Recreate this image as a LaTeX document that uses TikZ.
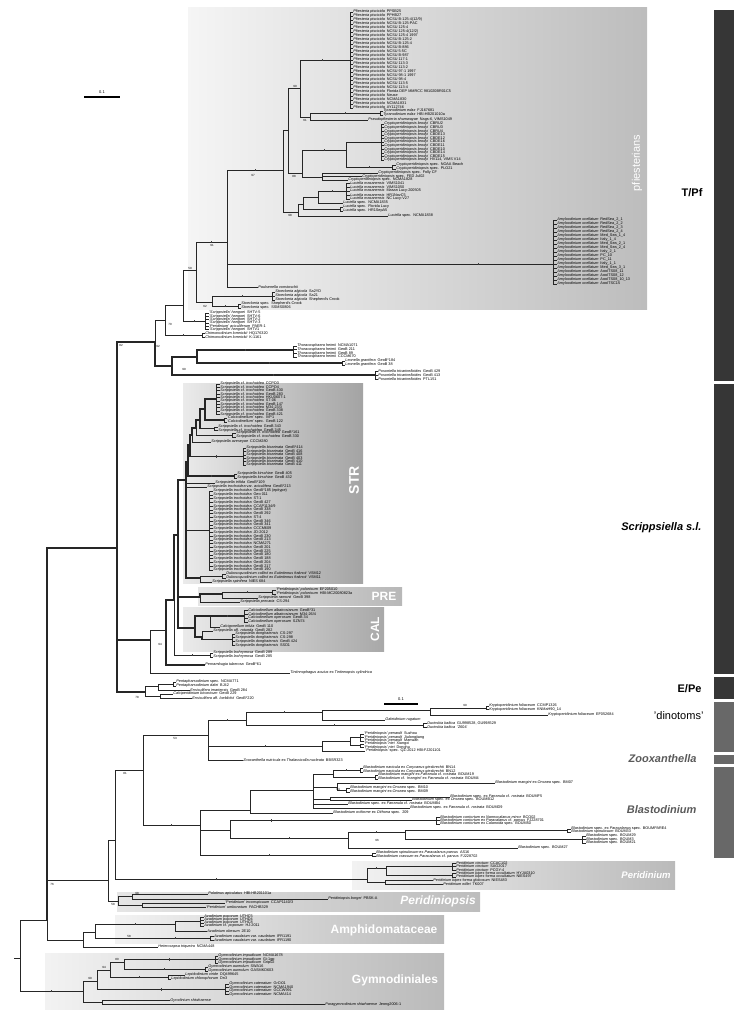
\documentclass[tikz,border=0pt]{standalone}
\usepackage{fontspec}
\setmainfont{Liberation Sans}
\usetikzlibrary{positioning}

\definecolor{bardark}{HTML}{363636}
\definecolor{barlight}{HTML}{686868}
\definecolor{lblgray}{HTML}{5A5A5A}

\tikzset{
  lf/.style={anchor=west, inner sep=0.2pt, font=\fontsize{3.8}{4}\selectfont},
  br/.style={line width=0.5pt, black!85},
  tk/.style={line width=1.4pt},
  bs/.style={inner sep=0.3pt, font=\fontsize{3}{3.2}\selectfont},
  mk/.style={inner sep=0pt, minimum width=0.45pt, minimum height=2.6pt, fill=black!75},
  clade/.style={left color=black!5, right color=black!27},
  cladelbl/.style={text=white, font=\bfseries\fontsize{12}{12}\selectfont},
  sidebar/.style={fill=bardark},
  sidebarlt/.style={fill=barlight},
  sidelbl/.style={anchor=east, font=\bfseries\fontsize{11}{11}\selectfont},
  scalebar/.style={line width=2.6pt},
}

% #1 prefix, #2 bar x, #3 text x, #4 first y, #5 step, #6 species, #7 strains
\newcommand\taxa[7]{%
  \foreach \tx [count=\i from 0] in {#7}{%
    \node[lf] (#1\i) at (#3,{#4+\i*#5}) {#6\tx};
    \draw[br] (#2,{#4+\i*#5}) -- (#1\i.west);
    \ifnum\i>0 \draw[br] (#2,{#4+\i*#5}) -- ++(0,{-#5});\fi
  }}

\begin{document}
\begin{tikzpicture}[x=1pt,y=-1pt]
\useasboundingbox (0,0) rectangle (751,1024);

% shaded clades
\shade[clade,left color=black!4,right color=black!26] (188,8) rectangle (647,309);
\shade[clade,left color=black!8,right color=black!36] (183,383) rectangle (363,583);
\shade[clade,left color=black!10,right color=black!28] (198,587) rectangle (402,605);
\shade[clade,left color=black!8,right color=black!34] (183,607) rectangle (384,651);
\shade[clade] (352,861) rectangle (675,889);
\shade[clade,left color=black!10,right color=black!26] (117,892) rectangle (480,911);
\shade[clade] (115,915) rectangle (444,943);
\shade[clade] (45,953) rectangle (444,1009);

\node[cladelbl, rotate=90, font=\fontsize{11}{11}\selectfont] (lpf) at (637,163) {pfiesterians};
\node[cladelbl, rotate=90, font=\bfseries\fontsize{14}{14}\selectfont] (lstr) at (354,480) {STR};
\node[cladelbl] (lpre) at (384,596) {PRE};
\node[cladelbl, rotate=90] (lcal) at (375,629) {CAL};
\node[cladelbl, font=\bfseries\itshape\fontsize{9.5}{9.5}\selectfont] (lper) at (646,875) {Peridinium};
\node[cladelbl, font=\bfseries\itshape\fontsize{12}{12}\selectfont] (lpdp) at (438,901) {Peridiniopsis};
\node[cladelbl] (lamp) at (384,930) {Amphidomataceae};
\node[cladelbl] (lgym) at (395,980) {Gymnodiniales};

% side bars
\fill[sidebar] (714,10) rectangle (734,381);
\fill[sidebar] (714,384) rectangle (734,674);
\fill[sidebar] (714,677) rectangle (734,699);
\fill[sidebarlt] (714,702) rectangle (734,752);
\fill[sidebarlt] (714,755) rectangle (734,764);
\fill[sidebarlt] (714,767) rectangle (734,858);
\node[sidelbl] (stpf) at (706,193) {T/Pf};
\node[sidelbl, font=\bfseries\itshape\fontsize{11}{11}\selectfont] (sscr) at (705,528) {Scrippsiella s.l.};
\node[sidelbl] (sep) at (705,689) {E/Pe};
\node[sidelbl, font=\fontsize{11}{11}\selectfont] (sdin) at (707,716) {'dinotoms'};
\node[sidelbl, text=lblgray, font=\bfseries\itshape\fontsize{11}{11}\selectfont] (szoo) at (700,759) {Zooxanthella};
\node[sidelbl, text=lblgray, font=\bfseries\itshape\fontsize{11}{11}\selectfont] (sbla) at (700,810) {Blastodinium};

% scale bars
\coordinate (sa1) at (84,97);
\coordinate (sa2) at (120,97);
\draw[scalebar] (sa1) -- node[above=1.6pt, bs, font=\fontsize{4}{4}\selectfont] (sl1) {0.1} (sa2);
\coordinate (sb1) at (384,704);
\coordinate (sb2) at (418,704);
\draw[scalebar] (sb1) -- node[above=1.6pt, bs, font=\fontsize{4}{4}\selectfont] (sl2) {0.1} (sb2);

% ---------------- pfiesterians
\coordinate (pfA) at (300,88);
\coordinate (pfB) at (350,60);
\coordinate (tyA) at (310,117);
\coordinate (tyB) at (380,113);
\coordinate (crA) at (288,130);
\coordinate (crB) at (302,173);
\coordinate (crC) at (346,150);
\coordinate (crD) at (381,142);
\coordinate (crE) at (392,167);
\coordinate (crF) at (322,177);
\coordinate (luA) at (283,170);
\coordinate (luB) at (298,212);
\coordinate (luC) at (303,204);
\coordinate (luD) at (318,197);
\coordinate (luE) at (346,191);
\coordinate (luG) at (340,209);
\coordinate (amA) at (553,264);
\coordinate (n97) at (227,242);
\coordinate (stA) at (212,302);
\coordinate (stB) at (272,296);
\coordinate (stC) at (238,306);
\coordinate (core) at (196,270);
\coordinate (tpf1) at (183,305);
\coordinate (hgA) at (205,321);
\coordinate (tpf0) at (165,320);
\coordinate (chA) at (202,335);
\coordinate (n92) at (155,342);
\coordinate (thA) at (172,366);
\coordinate (thB) at (197,357);
\coordinate (thC) at (293,350);
\coordinate (leA) at (342,363);
\coordinate (poA) at (375,375);

\taxa{pp}{350}{353}{12}{4}{\textit{Pfiesteria piscicida}\enspace}{PPSB25,PPHB27,NCSU B-125-4(12/9),NCSU B-125-PAC,NCSU 125-4,NCSU 125-4(12/2),NCSU 125-4 1997,NCSU B-125-2,NCSU B-125-4,NCSU B-886,NCSU 5-5C,NCSU B-987,NCSU 117-1,NCSU 113-3,NCSU 113-2,NCSU 97-1 1997,NCSU 98-1 1997,NCSU 98-4,NCSU 113-5,NCSU 113-4,Florida DEP MMRCC 981020BR01C5,Neuse,NCMA1830,NCMA1831,AY112746}
\taxa{ty}{380}{383}{111}{4}{\textit{Tyranodinium edax}\enspace}{FJ167681,HBI:HB201010a}
\node[lf] (psd) at (368,120) {\textit{Pseudopfiesteria shumwayae}\enspace Nags-6, VIMS1049};
\taxa{cb}{381}{384}{124}{3.6}{\textit{Cryptoperidiniopsis brodyi}\enspace}{CBRU2,CBRU3,CBRU4,CBDE13,CBDE12,CBDE16,CBDE11,CBDE10,CBDE14,CBDE15,{HV114, VIMS V14}}
\taxa{cs}{392}{396}{165}{4}{\textit{Cryptoperidiniopsis} spec.\enspace}{NOAA Beach,PLO21}
\node[lf] (cf1) at (378,173) {\textit{Cryptoperidiniopsis} spec.\enspace Folly CF};
\node[lf] (cf2) at (362,176.5) {\textit{Cryptoperidiniopsis} spec.\enspace FED Jul02};
\node[lf] (cf3) at (348,180) {\textit{Cryptoperidiniopsis} spec.\enspace NCMA1828};
\taxa{lm}{346}{350}{183}{4}{\textit{Luciella masanensis}\enspace}{VIMS1041,VIMS1050,Masan Lucy-200505,HR1NovC5,NC Lucy-V27}
\node[lf] (luF) at (343,203) {\textit{Luciella} spec.\enspace NCMA1835};
\taxa{ls}{340}{343}{207}{4}{\textit{Luciella} spec.\enspace}{Florida Lucy,HR1SepA5}
\node[lf] (luH) at (388,216) {\textit{Luciella} spec.\enspace NCMA1838};
\taxa{am}{553}{557}{220}{4}{\textit{Amyloodinium ocellatum}\enspace}{RedSea\_2\_1,RedSea\_2\_2,RedSea\_2\_3,RedSea\_2\_4,Med\_Sea\_1\_4,Italy\_1\_4,Med\_Sea\_2\_1,Med\_Sea\_2\_4,Italy\_2\_1,PC\_10,PC\_11,Italy\_1\_1,Med\_Sea\_3\_1,AooITS08\_11,AooITS08\_12,AooITS08\_10\_13,AooITSC15}
\node[lf] (pau) at (258,287) {\textit{Paulsenella vonstoschii}};
\taxa{sa}{272}{275}{292}{4}{\textit{Stoeckeria algicola}\enspace}{Sa2YD,Sa21,Shepherd's Crook}
\taxa{ss}{238}{241}{304}{4}{\textit{Stoeckeria} spec.\enspace}{Shepherd's Crook,SSMS0806}
\taxa{hg}{205}{209}{313}{3.3}{}{\textit{'Scrippsiella' hangoei}\enspace SHTV-5,\textit{'Scrippsiella' hangoei}\enspace SHTV-6,\textit{'Scrippsiella' hangoei}\enspace SHTV-2,\textit{'Scrippsiella' hangoei}\enspace SHTV-3,\textit{'Peridinium' aciculiferum}\enspace PAER-1,\textit{'Scrippsiella' hangoei}\enspace SHTV1}
\taxa{ch}{202}{205}{333}{4}{\textit{Chimonodinium lomnickii}\enspace}{HQ176320,K-1161}
\taxa{th}{293}{297}{346}{3.6}{\textit{Thoracosphaera heimii}\enspace}{NCMA1071,GeoB 211,GeoB 89,CCCM670}
\taxa{le}{342}{345}{361}{4}{\textit{Leonella granifera}\enspace}{GeoB*184,GeoB 38}
\taxa{po}{375}{378}{371}{4}{\textit{Posoniella tricarinelloides}\enspace}{GeoB 429,GeoB 413,PTL151}

\draw[br] (pfA) |- node[mk,pos=0.72]{} (pfB);
\draw[br] (pfA) |- (tyA);
\draw[br] (tyA) |- node[mk,pos=0.75]{} (tyB);
\draw[br] (tyA) |- (psd.west);
\draw[br] (crA) |- (pfA);
\draw[br] (crA) |- (crB);
\draw[br] (crB) |- node[mk,pos=0.75]{} (crC);
\draw[br] (crB) |- (crF);
\draw[br] (crC) |- (crD);
\draw[br] (crC) |- node[mk,pos=0.75]{} (crE);
\draw[br] (crF) |- (cf1.west);
\draw[br] (crF) |- (cf2.west);
\draw[br] (crF) |- (cf3.west);
\draw[br] (luA) |- (crA);
\draw[br] (luA) |- (luB);
\draw[br] (luB) |- (luC);
\draw[br] (luB) |- (luH.west);
\draw[br] (luC) |- (luD);
\draw[br] (luC) |- (luG);
\draw[br] (luD) |- node[mk,pos=0.75]{} (luE);
\draw[br] (luD) |- (luF.west);
\draw[br] (n97) |- node[mk,pos=0.75]{} (luA);
\draw[br] (n97) |- node[mk,pos=0.885]{} (amA);
\draw[br] (n97) |- (pau.west);
\draw[br] (stA) |- node[mk,pos=0.75]{} (stB);
\draw[br] (stA) |- node[mk,pos=0.75]{} (stC);
\draw[br] (core) |- node[mk,pos=0.75]{} (n97);
\draw[br] (core) |- (stA);
\draw[br] (tpf1) |- (core);
\draw[br] (tpf1) |- node[mk,pos=0.75]{} (hgA);
\draw[br] (tpf0) |- (tpf1);
\draw[br] (tpf0) |- node[mk,pos=0.75]{} (chA);
\draw[br] (n92) |- (tpf0);
\draw[br,tk] (n92) |- (thA);
\draw[br,tk] (thA) |- (thB);
\draw[br,tk] (thA) |- node[mk,pos=0.75]{} (poA);
\draw[br,tk] (thB) |- node[mk,pos=0.75]{} (thC);
\draw[br,tk] (thB) |- node[mk,pos=0.75]{} (leA);

\node[bs] (b1) at (295,86) {99};
\node[bs] (b2) at (305,120) {61};
\node[bs] (b3) at (294,176) {88};
\node[bs] (b4) at (290,215) {98};
\node[bs] (b5) at (253,175) {97};
\node[bs] (b6) at (212,245) {91};
\node[bs] (b7) at (190,268) {59};
\node[bs] (b8) at (205,306) {62};
\node[bs] (b9) at (170,324) {70};
\node[bs] (b10) at (158,346) {92};
\node[bs] (b11) at (184,369) {99};

% ---------------- Scrippsiella s.l.
\coordinate (sc1) at (205,409);
\coordinate (sc2) at (200,420);
\coordinate (sc3) at (196,428);
\coordinate (sc4) at (192,435);
\coordinate (sc5) at (190,445);
\coordinate (sc6) at (188,462);
\coordinate (scA) at (186,480);
\coordinate (sc8) at (200,578);
\coordinate (t1) at (216,399.1);
\coordinate (t2) at (224,420);
\coordinate (t3) at (214,428.75);
\coordinate (t4) at (232,435);
\coordinate (t5) at (243,456.5);
\coordinate (t6) at (234,476);
\coordinate (t7) at (209,530.5);
\coordinate (t8) at (222,576);

\taxa{ca}{216}{220}{384}{3.35}{\textit{Scrippsiella} cf. \textit{trochoidea}\enspace}{CCPO3,CCPO4,GeoB 430,GeoB 283,HKU0607-1,ST-06,GeoB 147,M34-23/3,GeoB 338,GeoB 421}
\taxa{cc}{224}{227}{418}{4}{\textit{'Calciodinellum'} spec.\enspace}{IVP1,GeoB 122}
\taxa{cd}{214}{218}{427}{3.5}{\textit{Scrippsiella} cf. \textit{trochoidea}\enspace}{GeoB 343,GeoB 345}
\taxa{ce}{232}{236}{433}{4}{\textit{Scrippsiella} cf. \textit{trochoidea}\enspace}{GeoB*161,GeoB 330}
\node[lf] (ccc) at (211,442) {\textit{Scrippsiella aveseyae}\enspace CCCM280};
\taxa{bi}{243}{246}{448}{3.4}{\textit{Scrippsiella bicarinata}\enspace}{GeoB*414,GeoB 416,GeoB 408,GeoB 403,GeoB 410,GeoB 411}
\taxa{ki}{234}{237}{474}{4}{\textit{Scrippsiella kirschiae}\enspace}{GeoB 405,GeoB 432}
\node[lf] (trf) at (215,483) {\textit{Scrippsiella trifida}\enspace GeoB*109};
\node[lf] (acc) at (207,487) {\textit{Scrippsiella trochoidea} var. \textit{aciculifera}\enspace GeoB*213};
\taxa{tr}{209}{213}{491}{3.76}{\textit{Scrippsiella trochoidea}\enspace}{GeoB*185 (epitype),Geo 011,ST-1,GeoB 427,CCAP1134/9,GeoB 338,GeoB 292,ST-4,GeoB 346,GeoB 341,CCCM609,JD-2012,GeoB 230,GeoB 213,NCMA271,GeoB 201,GeoB 225,GeoB 180,GeoB 188,GeoB 204,GeoB 217,GeoB 190}
\taxa{du}{222}{226}{574}{4}{\textit{Duboscquodinium collinii} ex \textit{Eutintinnus fraknoii}\enspace}{VSM12,VSM11}
\node[lf] (spn) at (212,582) {\textit{Scrippsiella spinifera}\enspace NIES 684};

\draw[br,tk] (sc1) |- (t1);
\draw[br,tk] (sc1) |- (t2);
\draw[br,tk] (sc2) |- (sc1);
\draw[br,tk] (sc2) |- (t3);
\draw[br,tk] (sc3) |- (sc2);
\draw[br] (sc3) |- (t4);
\draw[br,tk] (sc4) |- (sc3);
\draw[br] (sc4) |- (ccc.west);
\draw[br,tk] (sc5) |- (sc4);
\draw[br,tk] (sc5) |- node[mk,pos=0.75]{} (t5);
\draw[br,tk] (sc6) |- (sc5);
\draw[br,tk] (sc6) |- node[mk,pos=0.75]{} (t6);
\draw[br,tk] (scA) |- (sc6);
\draw[br] (scA) |- (trf.west);
\draw[br] (scA) |- (acc.west);
\draw[br,tk] (scA) |- (t7);
\draw[br,tk] (scA) |- (sc8);
\draw[br] (sc8) |- (t8);
\draw[br] (sc8) |- (spn.west);

% PRE and CAL
\coordinate (preA) at (200,597);
\coordinate (preB) at (222,594);
\coordinate (t9) at (272,592);
\taxa{pl}{272}{276}{590}{4}{\textit{'Peridiniopsis' polonicum}\enspace}{EF205010,HBI:MC20080823a}
\node[lf] (ram) at (258,598) {\textit{Scrippsiella ramonii}\enspace GeoB 398};
\node[lf] (prc) at (240,602) {\textit{Scrippsiella precaria}\enspace CS-294};
\draw[br,tk] (preA) |- (preB);
\draw[br] (preA) |- (prc.west);
\draw[br] (preB) |- node[mk,pos=0.75]{} (t9);
\draw[br] (preB) |- (ram.west);

\coordinate (caA) at (195,628);
\coordinate (caB) at (210,616);
\coordinate (caC) at (202,637);
\coordinate (t10) at (244,616);
\coordinate (t11) at (232,639.55);
\taxa{cl}{244}{248}{610}{4}{}{\textit{Calciodinellum albatrosianum}\enspace GeoB*31,\textit{Calciodinellum albatrosianum}\enspace M34-26/4,\textit{Calciodinellum operosum}\enspace GeoB 34,\textit{Calciodinellum operosum}\enspace SZN74}
\node[lf] (inf) at (220,627) {\textit{Calcigonellum infula}\enspace GeoB 110};
\node[lf] (rot) at (213,631) {\textit{Scrippsiella} aff. \textit{rotunda}\enspace GeoB 282};
\taxa{dg}{232}{235}{634}{3.7}{\textit{Scrippsiella donghaiensis}\enspace}{CS-297,CS-298,GeoB 424,SSD1}
\draw[br,tk] (caA) |- (caB);
\draw[br,tk] (caA) |- (caC);
\draw[br,tk] (caB) |- node[mk,pos=0.75]{} (t10);
\draw[br] (caB) |- (inf.west);
\draw[br] (caC) |- (rot.west);
\draw[br,tk] (caC) |- (t11);

\coordinate (scB) at (178,535);
\coordinate (scC) at (174,600);
\coordinate (scD) at (166,630);
\coordinate (scE) at (150,640);
\coordinate (laA) at (210,655);
\taxa{la}{210}{213}{653}{4}{\textit{Scrippsiella lachrymosa}\enspace}{GeoB 289,GeoB 285}
\node[lf] (pern) at (205,665) {\textit{Pernambugia tuberosa}\enspace GeoB*61};
\node[lf] (tin) at (290,673) {\textit{Tintinnophagus acutus} ex \textit{Tintinnopsis cylindrica}};
\draw[br,tk] (scB) |- (scA);
\draw[br,tk] (scB) |- (preA);
\draw[br,tk] (scB) |- (caA);
\draw[br,tk] (scC) |- (scB);
\draw[br] (scC) |- node[mk,pos=0.75]{} (laA);
\draw[br,tk] (scD) |- (scC);
\draw[br,tk] (scD) |- (pern.west);
\draw[br] (scE) |- (scD);
\draw[br] (scE) |- (tin.west);
\node[bs] (b12) at (160,644) {94};

% ---------------- backbone and E/Pe
\coordinate (mA) at (117,548);
\coordinate (epA) at (145,692);
\coordinate (epB) at (158,686);
\coordinate (epC) at (160,696);
\coordinate (t12) at (173,684);
\taxa{pe}{173}{176}{682}{4}{}{\textit{Pentapharsodinium} spec.\enspace NCMA771,\textit{Pentapharsodinium dalei}\enspace BJ42}
\node[lf] (imar) at (190,690) {\textit{Ensiculifera imariensis}\enspace GeoB 284};
\node[lf] (bic) at (173,694) {\textit{Calciperidinium biconicum}\enspace GeoB 229};
\node[lf] (loe) at (192,698) {\textit{Ensiculifera} aff. \textit{loeblichii}\enspace GeoB*220};
\draw[br,tk] (mA) |- (n92);
\draw[br,tk] (mA) |- (scE);
\draw[br,tk] (mA) |- (epA);
\draw[br] (epA) |- (epB);
\draw[br] (epA) |- (epC);
\draw[br] (epB) |- (t12);
\draw[br] (epB) |- (imar.west);
\draw[br] (epC) |- (bic.west);
\draw[br] (epC) |- (loe.west);
\node[bs] (b13) at (137,697) {78};
\node[bs] (b26) at (121,345) {82};

% ---------------- dinotoms and Zooxanthella
\coordinate (dA) at (208,735);
\coordinate (dB) at (246,720);
\coordinate (dC) at (322,712);
\coordinate (krA) at (430,710);
\coordinate (t13) at (486,707.75);
\coordinate (t14) at (423,725);
\coordinate (peA) at (322,746);
\coordinate (peB) at (350,741);
\coordinate (t15) at (360,737.5);
\coordinate (t16) at (360,745.5);
\taxa{kr}{486}{489}{706}{3.5}{\textit{Kryptoperidinium foliaceum}\enspace}{CCMP1326,KNMaH90\_14}
\node[lf] (ef) at (548,715) {\textit{Kryptoperidinium foliaceum}\enspace EF052684};
\node[lf] (gal) at (385,720) {\textit{Galeidinium rugatum}};
\taxa{db}{423}{427}{723}{4}{\textit{Durinskia baltica}\enspace}{{GU998528, GU998529},'Z604'}
\taxa{pn}{360}{364}{734}{3.5}{\textit{'Peridiniopsis' penardii}\enspace}{Suzhou,Jiulongjiang,Manwan}
\taxa{ni}{360}{364}{744}{3.3}{\textit{'Peridiniopsis' niei}\enspace}{Xiangxi,Donghu}
\node[lf] (pes) at (365,751) {\textit{'Peridiniopsis'} spec.\enspace QZ-2012 HBI:FJ201101};
\node[lf] (zoo) at (243,760) {\textit{Zooxanthella nutricula} ex \textit{Thalassicolla nucleata}\enspace BBSR323};
\draw[br] (dA) |- node[mk,pos=0.75]{} (dB);
\draw[br] (dA) |- node[mk,pos=0.75]{} (peA);
\draw[br] (dA) |- (zoo.west);
\draw[br] (dB) |- node[mk,pos=0.75]{} (dC);
\draw[br] (dB) |- node[mk,pos=0.75]{} (t14);
\draw[br] (dC) |- (krA);
\draw[br] (dC) |- (gal.west);
\draw[br] (krA) |- (t13);
\draw[br] (krA) |- (ef.west);
\draw[br] (peA) |- (peB);
\draw[br] (peA) |- (pes.west);
\draw[br] (peB) |- (t15);
\draw[br] (peB) |- (t16);
\node[bs] (b14) at (465,705) {99};
\node[bs] (b15) at (175,738) {53};

% ---------------- Blastodinium
\coordinate (b1n) at (333,774);
\coordinate (t17) at (360,770);
\coordinate (t18) at (375,777);
\coordinate (b2n) at (337,787);
\coordinate (t19) at (346,790);
\coordinate (b4n) at (330,799);
\coordinate (bA) at (313,790);
\coordinate (bB) at (250,810);
\coordinate (t20) at (436,820.5);
\coordinate (pa) at (348,838);
\coordinate (paA) at (405,832);
\coordinate (t21) at (567,830.5);
\coordinate (t22) at (582,839.5);
\coordinate (bD) at (230,830);
\coordinate (t23) at (372,855);
\coordinate (bE) at (200,825);
\coordinate (dZ) at (143,770);
\taxa{bn}{360}{363}{768}{4}{\textit{Blastodinium navicula} ex \textit{Corycaeus giesbrechti}\enspace}{BN14,BN12}
\taxa{bm}{375}{378}{775}{4}{}{\textit{Blastodinium mangini} ex \textit{Farranula} cf. \textit{rostrata}\enspace BOUM19,\textit{Blastodinium} cf. \textit{'mangini'} ex \textit{Farranula} cf. \textit{rostrata}\enspace BOUM4}
\node[lf] (bm7) at (495,783) {\textit{Blastodinium mangini} ex \textit{Oncaea} spec.\enspace BM07};
\taxa{bo}{346}{350}{788}{4}{\textit{Blastodinium mangini} ex \textit{Oncaea} spec.\enspace}{BM10,BM09}
\node[lf] (bf5) at (450,797) {\textit{Blastodinium} spec. ex \textit{Farranula} cf. \textit{rostrata}\enspace BOUMF5};
\node[lf] (b12n) at (412,800) {\textit{Blastodinium} spec. ex \textit{Oncaea} spec.\enspace BOUMB12};
\node[lf] (bb4) at (348,804) {\textit{Blastodinium} spec. ex \textit{Farranula} cf. \textit{rostrata}\enspace BOUMB4};
\node[lf] (bd9) at (410,808) {\textit{Blastodinium} spec. ex \textit{Farranula} cf. \textit{rostrata}\enspace BOUMD9};
\node[lf] (ovi) at (333,813) {\textit{Blastodinium oviforme} ex \textit{Oithona} spec.\enspace 209};
\taxa{bc}{436}{440}{817}{3.5}{}{\textit{Blastodinium contortum} ex \textit{Nannocalanus minor}\enspace BCO02,\textit{Blastodinium contortum} ex \textit{Paracalanus} cf. \textit{parvus}\enspace FJ228701,\textit{Blastodinium contortum} ex \textit{Calanoida} spec.\enspace BOUM50}
\taxa{bp}{567}{571}{829}{3}{}{\textit{Blastodinium} spec. ex \textit{Paracalanus} spec.\enspace BOUMPARE4,\textit{Blastodinium spinulosum}\enspace BOUM33}
\taxa{bq}{582}{586}{836}{3.5}{\textit{Blastodinium} spec.\enspace}{BOUM29,BOUM3,BOUM21}
\node[lf] (b27) at (518,848) {\textit{Blastodinium} spec.\enspace BOUM27};
\taxa{bs}{372}{376}{853}{3.6}{}{\textit{Blastodinium spinulosum} ex \textit{Paracalanus parvus}\enspace AS16,\textit{Blastodinium crassum} ex \textit{Paracalanus} cf. \textit{parvus}\enspace FJ228702}
\draw[br] (b1n) |- node[mk,pos=0.75]{} (t17);
\draw[br] (b1n) |- (t18);
\draw[br] (b2n) |- (bm7.west);
\draw[br] (b2n) |- (t19);
\draw[br] (b4n) |- (bf5.west);
\draw[br] (b4n) |- (b12n.west);
\draw[br] (bA) |- (b1n);
\draw[br] (bA) |- (b2n);
\draw[br] (bA) |- (b4n);
\draw[br] (bA) |- (bb4.west);
\draw[br] (bA) |- (bd9.west);
\draw[br] (bB) |- (bA);
\draw[br] (bB) |- (ovi.west);
\draw[br] (paA) |- (t21);
\draw[br] (paA) |- (t22);
\draw[br] (pa) |- node[mk,pos=0.75]{} (paA);
\draw[br] (pa) |- (b27.west);
\draw[br] (bD) |- node[mk,pos=0.6]{} (t20);
\draw[br] (bD) |- node[mk,pos=0.75]{} (pa);
\draw[br] (bE) |- (bB);
\draw[br] (bE) |- (bD);
\draw[br] (bE) |- node[mk,pos=0.7]{} (t23);
\draw[br] (dZ) |- (dA);
\draw[br] (dZ) |- node[mk,pos=0.75]{} (bE);
\node[bs] (b16) at (377,840) {96};
\node[bs] (b17) at (338,789) {94};
\node[bs] (b18) at (125,773) {81};

% ---------------- Peridinium, Peridiniopsis
\coordinate (lo) at (115,840);
\coordinate (pr) at (367,879);
\coordinate (prA) at (386,868);
\coordinate (prB) at (385,882);
\coordinate (t24) at (452,866.5);
\coordinate (t25) at (452,875.25);
\taxa{pc}{452}{456}{863}{3.5}{\textit{Peridinium cinctum}\enspace}{CCAC102,SAG2017,PCGY-4}
\taxa{pb}{452}{456}{873.5}{3.5}{\textit{Peridinium bipes} forma \textit{occultatum}\enspace}{HYJA0310,NIES497}
\node[lf] (glob) at (433,880.5) {\textit{Peridinium bipes} forma \textit{globosum}\enspace NIES483};
\node[lf] (wil) at (443,884) {\textit{Peridinium willei}\enspace TK007};
\draw[br] (prA) |- (t24);
\draw[br] (prA) |- (t25);
\draw[br] (prB) |- (glob.west);
\draw[br] (prB) |- (wil.west);
\draw[br] (pr) |- node[mk,pos=0.75]{} (prA);
\draw[br] (pr) |- (prB);
\draw[br] (lo) |- (dZ);
\draw[br] (lo) |- node[mk,pos=0.7]{} (pr);

\coordinate (pp) at (108,880);
\coordinate (pd) at (118,901);
\coordinate (pd1) at (132,896);
\coordinate (pd2) at (142,905);
\node[lf] (pal) at (208,894) {\textit{Palatinus apiculatus}\enspace HBI:HB201101a};
\node[lf] (bor) at (328,899) {\textit{Peridiniopsis borgei}\enspace PBSK-A};
\node[lf] (inc) at (225,903) {\textit{'Peridinium' inconspicuum}\enspace CCAP1140/3};
\node[lf] (umb) at (206,907) {\textit{'Peridinium' umbonatum}\enspace FACHB329};
\draw[br] (pd1) |- (pal.west);
\draw[br] (pd1) |- (bor.west);
\draw[br] (pd2) |- (inc.west);
\draw[br] (pd2) |- (umb.west);
\draw[br] (pd) |- (pd1);
\draw[br] (pd) |- (pd2);
\draw[br] (pp) |- (lo);
\draw[br] (pp) |- (pd);
\node[bs] (b19) at (113,904) {58};
\node[bs] (b20) at (137,893) {98};

% ---------------- Amphidomataceae and root
\coordinate (ah) at (83,940);
\coordinate (am) at (95,932);
\coordinate (am1) at (175,924);
\coordinate (t26) at (200,921.5);
\coordinate (t27) at (210,938);
\coordinate (n47) at (47,920);
\coordinate (root) at (20,958);
\coordinate (rootstub) at (14,958);
\taxa{az}{200}{204}{917}{3}{}{\textit{Azadinium poporum}\enspace UTHC5,\textit{Azadinium poporum}\enspace UTHD4,\textit{Azadinium poporum}\enspace UTHC8,\textit{Azadinium} cf. \textit{poporum}\enspace HJ-2011}
\node[lf] (obe) at (207,931) {\textit{Azadinium obesum}\enspace 2E10};
\taxa{ac}{210}{214}{936}{4}{\textit{Azadinium caudatum} var. \textit{caudatum}\enspace}{IFR1191,IFR1190}
\node[lf] (het) at (158,947) {\textit{Heterocapsa triquetra}\enspace NCMA448};
\draw[br] (am1) |- (t26);
\draw[br] (am1) |- (obe.west);
\draw[br] (am) |- node[mk,pos=0.75]{} (am1);
\draw[br] (am) |- node[mk,pos=0.85]{} (t27);
\draw[br] (ah) |- (am);
\draw[br] (ah) |- (het.west);
\draw[br,tk] (n47) |- (mA);
\draw[br] (n47) |- (pp);
\draw[br] (n47) |- (ah);
\draw[br] (root) |- (n47);
\draw[br] (root) -- (rootstub);
\node[bs] (b21) at (129,936) {58};
\node[bs] (b22) at (52,884) {76};

% ---------------- Gymnodiniales
\coordinate (gR) at (83,991);
\coordinate (g1) at (97,981);
\coordinate (g2) at (110,970);
\coordinate (g3) at (124,962);
\coordinate (t28) at (225,989.25);
\coordinate (t30) at (215,959.5);
\coordinate (t31) at (205,969);
\coordinate (lep) at (168,977);
\coordinate (gy) at (102,1002);
\taxa{gi}{215}{218}{956}{3.5}{\textit{Gymnodinium impudicum}\enspace}{NCMA1678,Gi-1gp,Grip02}
\taxa{ga}{205}{208}{967}{4}{\textit{Gymnodinium aureolum}\enspace}{SWA16,GASMKD603}
\node[lf] (lv) at (185,975) {\textit{Lepidodinium viride}\enspace DQ499645};
\node[lf] (lc) at (171,979) {\textit{Lepidodinium chlorophorum}\enspace Dn3};
\taxa{gc}{225}{229}{984}{3.5}{\textit{Gymnodinium catenatum}\enspace}{GrCt01,NCMA1940,GCCW991,NCMA414}
\node[lf] (gyr) at (170,1000.5) {\textit{Gyrodinium shiwhaense}};
\node[lf] (pgy) at (325,1004.5) {\textit{Paragymnodinium shiwhaense}\enspace Jeong2006-1};
\draw[br] (g3) |- node[mk,pos=0.75]{} (t30);
\draw[br] (g3) |- node[mk,pos=0.75]{} (t31);
\draw[br] (lep) |- (lv.west);
\draw[br] (lep) |- (lc.west);
\draw[br] (g2) |- (g3);
\draw[br] (g2) |- node[mk,pos=0.75]{} (lep);
\draw[br] (g1) |- (g2);
\draw[br] (g1) |- node[mk,pos=0.75]{} (t28);
\draw[br] (gy) |- (gyr.west);
\draw[br] (gy) |- (pgy.west);
\draw[br] (gR) |- (g1);
\draw[br] (gR) |- (gy);
\draw[br] (root) |- node[mk,pos=0.75]{} (gR);
\node[bs] (b23) at (90,978) {99};
\node[bs] (b24) at (104,967) {94};
\node[bs] (b25) at (117,959) {80};
\end{tikzpicture}
\end{document}
